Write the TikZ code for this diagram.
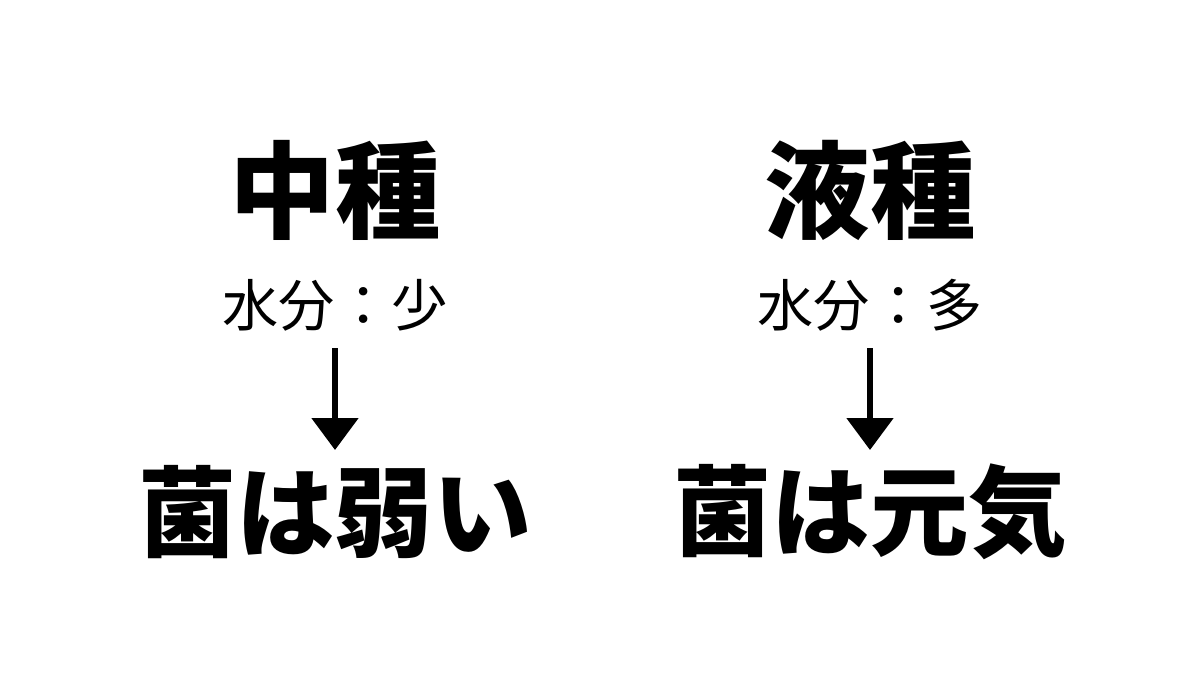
\documentclass[tikz,border=0pt]{standalone}
\usepackage{fontspec}
\newfontfamily\cjk{Noto Sans CJK JP}
\usetikzlibrary{arrows.meta}

\tikzset{
  title/.style={font=\cjk\bfseries\fontsize{30}{34}\selectfont},
  water/.style={font=\cjk\fontsize{16}{19}\selectfont},
  result/.style={font=\cjk\bfseries\fontsize{28}{32}\selectfont},
  down/.style={line width=1.5pt, -{Triangle[width=4.6mm,length=3.2mm]}}
}

\begin{document}
\begin{tikzpicture}
		\useasboundingbox (0,0) rectangle (12,-6.75);
		
		\node[title] (naka) at (3.35,-1.90) {中種};
		\node[water] (nakaw) at (3.35,-3.05) {水分：少};
		\node[result] (nakar) at (3.35,-5.12) {菌は弱い};
		
		\node[title] (eki) at (8.70,-1.90) {液種};
		\node[water] (ekiw) at (8.70,-3.05) {水分：多};
		\node[result] (ekir) at (8.70,-5.12) {菌は元気};
		
		\coordinate (a1) at (3.35,-3.48); \coordinate (a2) at (3.35,-4.50);
		\coordinate (b1) at (8.70,-3.48); \coordinate (b2) at (8.70,-4.50);
		\draw[down] (a1) -- (a2);
		\draw[down] (b1) -- (b2);
\end{tikzpicture}
\end{document}
